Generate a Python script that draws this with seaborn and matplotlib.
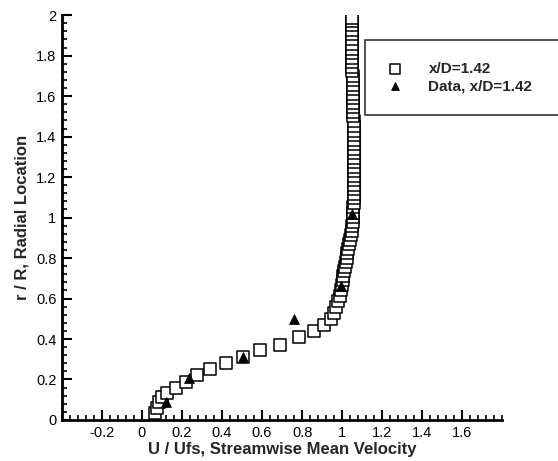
import numpy as np
import pandas as pd
import matplotlib
matplotlib.use("Agg")
import matplotlib.pyplot as plt
import seaborn as sns
from matplotlib.ticker import MultipleLocator, FuncFormatter

# CFD profile at x/D=1.42
cfd_u = [0.065, 0.075, 0.085, 0.10, 0.125, 0.17, 0.22, 0.275, 0.34, 0.42, 0.505, 0.59,
         0.69, 0.785, 0.86, 0.91, 0.945, 0.96, 0.97, 0.98, 0.99, 0.995,
         1.0, 1.003, 1.006, 1.01, 1.014, 1.018, 1.022, 1.026, 1.03, 1.035, 1.04, 1.045,
         1.048, 1.05, 1.052, 1.054, 1.055, 1.056, 1.057, 1.058, 1.058, 1.059, 1.06, 1.06,
         1.06, 1.06, 1.06, 1.06, 1.06, 1.06, 1.06, 1.059, 1.059, 1.058, 1.058, 1.057,
         1.057, 1.056, 1.056, 1.055, 1.055, 1.054, 1.054, 1.053, 1.053, 1.052, 1.052,
         1.051, 1.051, 1.05, 1.05, 1.05, 1.05, 1.05, 1.05, 1.05]
cfd_r = [0.035, 0.06, 0.09, 0.115, 0.135, 0.16, 0.19, 0.22, 0.25, 0.28, 0.31, 0.345,
         0.37, 0.41, 0.44, 0.47, 0.50, 0.53, 0.56, 0.59, 0.615, 0.64,
         0.665, 0.69, 0.71, 0.735, 0.755, 0.78, 0.80, 0.825, 0.845, 0.87, 0.89, 0.915,
         0.935, 0.96, 0.98, 1.005, 1.025, 1.05, 1.07, 1.095, 1.115, 1.14, 1.16, 1.185,
         1.205, 1.23, 1.25, 1.275, 1.295, 1.32, 1.34, 1.365, 1.385, 1.41, 1.43, 1.455,
         1.475, 1.50, 1.52, 1.545, 1.565, 1.59, 1.61, 1.635, 1.655, 1.68, 1.70,
         1.725, 1.745, 1.77, 1.79, 1.815, 1.835, 1.86, 1.88, 1.905]
cfd_r_top = [1.925, 1.95, 1.97, 1.985]
cfd_u_top = [1.05, 1.05, 1.05, 1.05]

# experimental data
exp_u = [0.12, 0.235, 0.505, 0.76, 0.995, 1.05]
exp_r = [0.09, 0.205, 0.31, 0.50, 0.66, 1.02]

cfd = pd.DataFrame({"u": cfd_u + cfd_u_top, "r": cfd_r + cfd_r_top})
exp = pd.DataFrame({"u": exp_u, "r": exp_r})

sns.set_theme(style="ticks")
plt.rcParams["font.family"] = ["Liberation Sans", "DejaVu Sans"]

fig = plt.figure(figsize=(5.58, 4.61), dpi=100)
ax = fig.add_axes([0.111, 0.089, 0.789, 0.878])

sns.scatterplot(data=cfd, x="u", y="r", marker="s", s=70, facecolor="white",
                edgecolor="black", linewidth=1.1, ax=ax, label="x/D=1.42", zorder=3)
sns.scatterplot(data=exp, x="u", y="r", marker="^", s=50, color="black",
                edgecolor="black", ax=ax, label="Data, x/D=1.42", zorder=4)

ax.set_xlim(-0.4, 1.8)
ax.set_ylim(0, 2)
ax.set_xticks(np.arange(-0.2, 1.61, 0.2))
ax.set_yticks(np.arange(0, 2.01, 0.2))
ax.xaxis.set_minor_locator(MultipleLocator(0.04))
ax.yaxis.set_minor_locator(MultipleLocator(0.04))
fmt = FuncFormatter(lambda v, p: "%g" % round(v, 2))
ax.xaxis.set_major_formatter(fmt)
ax.yaxis.set_major_formatter(fmt)
ax.tick_params(which="major", direction="in", length=7, width=1.5, labelsize=10.5,
               colors="black", pad=4)
ax.tick_params(which="minor", direction="in", length=3.5, width=1.2, colors="black")
for s in ["top", "right"]:
    ax.spines[s].set_visible(False)
for s in ["left", "bottom"]:
    ax.spines[s].set_linewidth(2)
    ax.spines[s].set_color("black")

ax.set_xlabel("U / Ufs, Streamwise Mean Velocity", fontsize=12, fontweight="bold", labelpad=2)
ax.set_ylabel("r / R, Radial Location", fontsize=12, fontweight="bold", labelpad=5)

x0 = 365 / 558
y1 = 1 - 40 / 461
leg = ax.legend(loc="upper left", bbox_to_anchor=(x0, y1 - 0.2, 1.01 - x0, 0.2),
                bbox_transform=fig.transFigure, mode="expand", frameon=True,
                fancybox=False, fontsize=11, borderpad=1.45, handlelength=1.0,
                handletextpad=1.7, labelspacing=0.2, borderaxespad=0, markerscale=0.8)
leg.get_frame().set_edgecolor("black")
leg.get_frame().set_linewidth(1.2)
for t in leg.get_texts():
    t.set_fontweight("bold")

fig.savefig("out.png", dpi=100)
